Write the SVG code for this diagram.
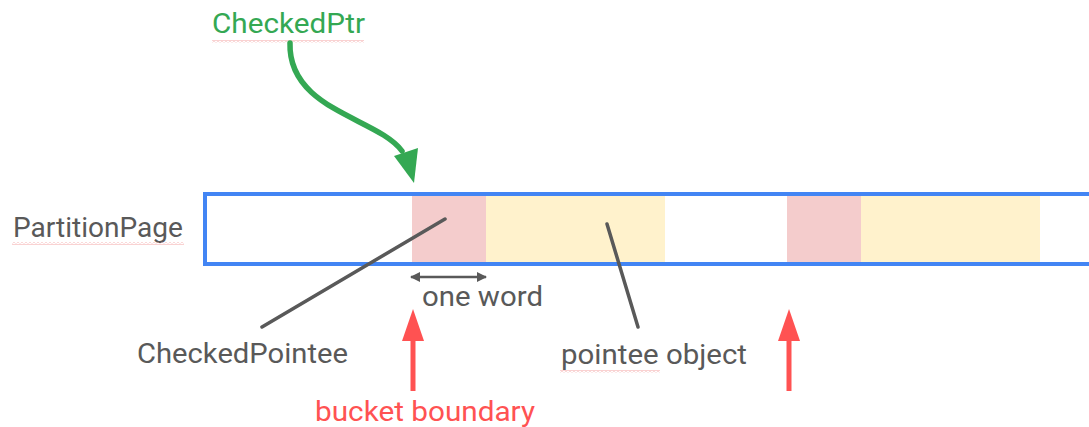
<svg xmlns="http://www.w3.org/2000/svg" width="1089" height="427" viewBox="0 0 1089 427">
  <style>
    .label { font-family: Roboto, "Liberation Sans", sans-serif; font-size: 28px; fill: #595959; }
    .green { fill: #34A853; }
    .red { fill: #FF5252; }
    .squiggle { fill: url(#wave); }
    .pointer { stroke: #595959; stroke-width: 3.5; stroke-linecap: round; fill: none; }
    .boundary { stroke: #FF5252; stroke-width: 5; fill: none; }
  </style>
  <defs>
    <marker id="tick" viewBox="0 0 10 10" refX="9" refY="5" markerWidth="4" markerHeight="4" orient="auto-start-reverse">
      <path d="M0,0 L10,5 L0,10 z" fill="#595959"/>
    </marker>
    <!-- spell-check style wavy underline -->
    <pattern id="wave" width="4" height="3" patternUnits="userSpaceOnUse">
      <path d="M0,0.5 L2,2.5 L4,0.5" fill="none" stroke="#F4A6A6" stroke-width="1"/>
    </pattern>
  </defs>
  <rect width="1089" height="427" fill="#ffffff"/>

  <!-- the partition page with two slots -->
  <g id="partition-page">
    <rect x="412" y="196" width="74" height="66" fill="#F4CCCC"/>
    <rect x="486" y="196" width="179" height="66" fill="#FFF2CC"/>
    <rect x="787" y="196" width="74" height="66" fill="#F4CCCC"/>
    <rect x="861" y="196" width="179" height="66" fill="#FFF2CC"/>
    <rect x="205" y="194" width="900" height="70" fill="none" stroke="#4285F4" stroke-width="4"/>
  </g>

  <g id="label-partition-page">
    <text class="label" x="13" y="237" textLength="170" lengthAdjust="spacingAndGlyphs">PartitionPage</text>
    <rect class="squiggle" x="12" y="242" width="172" height="3"/>
  </g>

  <g id="label-checked-ptr">
    <text class="label green" x="212" y="33" textLength="153" lengthAdjust="spacingAndGlyphs">CheckedPtr</text>
    <rect class="squiggle" x="212" y="40" width="152" height="3"/>
  </g>

  <g id="label-checked-pointee">
    <text class="label" x="137" y="363" textLength="211" lengthAdjust="spacingAndGlyphs">CheckedPointee</text>
  </g>

  <g id="label-pointee-object">
    <text class="label" x="561" y="364" textLength="186" lengthAdjust="spacingAndGlyphs">pointee object</text>
    <rect class="squiggle" x="560" y="370" width="100" height="3"/>
  </g>

  <g id="label-one-word">
    <text class="label" x="422" y="306" font-size="26" textLength="121" lengthAdjust="spacingAndGlyphs">one word</text>
  </g>

  <g id="label-bucket-boundary">
    <text class="label red" x="315" y="421" textLength="220" lengthAdjust="spacingAndGlyphs">bucket boundary</text>
  </g>

  <g id="connectors">
    <!-- CheckedPtr pointing at the start of the slot -->
    <path d="M290,43 C288,110 378,118 402,151" fill="none" stroke="#34A853" stroke-width="5.5" stroke-linecap="round"/>
    <polygon points="394,156 418,148 414,183" fill="#34A853"/>

    <!-- leader lines -->
    <line class="pointer" x1="445" y1="219" x2="262" y2="327"/>
    <line class="pointer" x1="607" y1="224" x2="638" y2="327"/>

    <!-- width of one word -->
    <line x1="411" y1="277" x2="486" y2="277" stroke="#595959" stroke-width="2.5" marker-start="url(#tick)" marker-end="url(#tick)"/>

    <!-- bucket boundaries -->
    <line class="boundary" x1="413" y1="338" x2="413" y2="391"/>
    <polygon points="413,309 402,341 424,341" fill="#FF5252"/>
    <line class="boundary" x1="789" y1="338" x2="789" y2="391"/>
    <polygon points="789,309 778,341 800,341" fill="#FF5252"/>
  </g>
</svg>
